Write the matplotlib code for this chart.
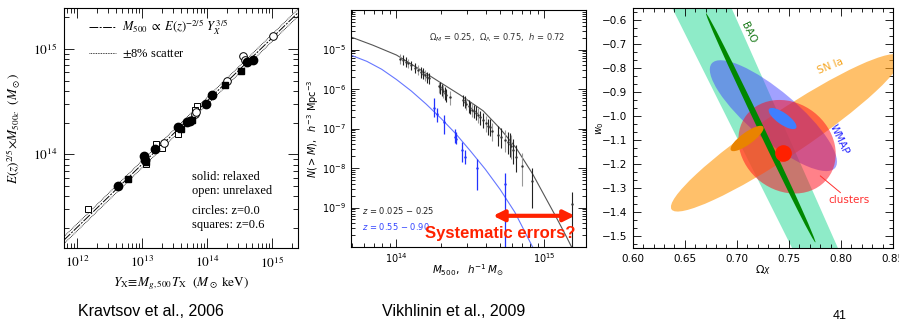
import numpy as np
import matplotlib
matplotlib.use('Agg')
import matplotlib.pyplot as plt
from matplotlib.patches import Ellipse, Polygon
from matplotlib.transforms import IdentityTransform
from matplotlib.ticker import LogLocator, MultipleLocator, NullFormatter

plt.rcParams['mathtext.fontset'] = 'stix'
plt.rcParams['font.family'] = ['DejaVu Sans']

# ---- panel 1: Kravtsov et al. 2006 (log10 values) ----
fc_logY = [12.63, 13.03, 13.05, 13.20, 13.56, 13.69, 13.74, 13.99, 14.07, 14.61, 14.71]
fc_logM = [13.70, 13.98, 13.95, 14.05, 14.26, 14.31, 14.32, 14.48, 14.565, 14.88, 14.90]
fs_logY = [12.78, 13.06, 13.60, 13.77, 14.27, 14.53]
fs_logM = [13.77, 13.93, 14.24, 14.33, 14.66, 14.79]
oc_logY = [13.34, 13.82, 13.83, 14.07, 14.31, 14.56, 14.58, 15.01]
oc_logM = [14.11, 14.38, 14.40, 14.565, 14.70, 14.93, 14.90, 15.12]
os_logY = [12.17, 13.06, 13.21, 13.31, 13.55, 13.84, 13.82]
os_logM = [13.485, 13.91, 14.10, 14.06, 14.19, 14.46, 14.42]
fit_logY = [11.8, 15.4]
fit_logM = [13.185, 15.345]
scatter_frac = 0.08

# ---- panel 2: Vikhlinin et al. 2009 (log10 values) ----
lo_curve_logM = [13.69, 13.84, 14.0, 14.135, 14.29, 14.43, 14.585, 14.70, 14.81, 14.92, 15.0, 15.08, 15.15, 15.21]
lo_curve_logN = [-4.68, -4.89, -5.14, -5.45, -5.82, -6.15, -6.55, -7.0, -7.50, -8.15, -8.7, -9.25, -9.75, -10.2]
hi_curve_logM = [13.69, 13.80, 13.90, 14.00, 14.10, 14.20, 14.30, 14.40, 14.50, 14.60, 14.70, 14.80, 14.92]
hi_curve_logN = [-5.14, -5.30, -5.50, -5.76, -6.05, -6.38, -6.74, -7.13, -7.57, -8.03, -8.54, -9.12, -10.0]

lo_logM = [14.027, 14.045, 14.063, 14.081, 14.101, 14.124, 14.146, 14.169, 14.180, 14.191, 14.207, 14.221,
           14.288, 14.297, 14.306, 14.315, 14.326, 14.338, 14.360,
           14.450, 14.461, 14.473, 14.489, 14.500, 14.511, 14.522, 14.536, 14.552, 14.567, 14.585, 14.608,
           14.619, 14.630, 14.648,
           14.687, 14.709, 14.732, 14.754, 14.766, 14.777, 14.788, 14.811, 14.851, 14.919, 15.189]
lo_logN = [-5.23, -5.27, -5.31, -5.35, -5.40, -5.46, -5.51, -5.57, -5.61, -5.65, -5.69, -5.73,
           -5.93, -5.96, -6.01, -6.05, -6.10, -6.15, -6.21,
           -6.28, -6.32, -6.38, -6.43, -6.47, -6.52, -6.56, -6.60, -6.66, -6.72, -6.79, -6.87,
           -6.94, -6.97, -7.06,
           -7.16, -7.21, -7.29, -7.33, -7.38, -7.44, -7.54, -7.71, -7.95, -8.34, -8.92]
lo_err_dn = [0.13, 0.13, 0.13, 0.13, 0.13, 0.13, 0.13, 0.14, 0.14, 0.14, 0.15, 0.15,
             0.16, 0.16, 0.16, 0.17, 0.17, 0.18, 0.19,
             0.16, 0.16, 0.16, 0.17, 0.17, 0.18, 0.18, 0.19, 0.19, 0.2, 0.2, 0.22,
             0.22, 0.23, 0.25,
             0.28, 0.29, 0.3, 0.32, 0.33, 0.34, 0.36, 0.4, 0.5, 0.68, 1.08]
lo_err_up = [0.12, 0.12, 0.12, 0.12, 0.12, 0.12, 0.12, 0.13, 0.13, 0.13, 0.13, 0.13,
             0.14, 0.14, 0.14, 0.15, 0.15, 0.16, 0.17,
             0.14, 0.14, 0.14, 0.15, 0.15, 0.16, 0.16, 0.16, 0.17, 0.17, 0.18, 0.19,
             0.19, 0.2, 0.21,
             0.22, 0.23, 0.24, 0.25, 0.26, 0.27, 0.28, 0.3, 0.32, 0.34, 0.32]

hi_logM = [14.254, 14.274, 14.322, 14.394, 14.40, 14.446, 14.461, 14.545, 14.736]
hi_logN = [-6.49, -6.64, -6.83, -7.21, -7.27, -7.54, -7.71, -8.0, -8.40]
hi_err_dn = [0.23, 0.2, 0.3, 0.16, 0.12, 0.3, 0.2, 0.55, 1.6]
hi_err_up = [0.25, 0.15, 0.17, 0.21, 0.18, 0.21, 0.17, 0.22, 0.28]

arrow_logM = [14.653, 15.205]
arrow_logN = -9.21

# ---- panel 3: constraints in (Omega_X, w0) ----
bao_band = [(0.638, -0.55), (0.695, -0.55), (0.797, -1.55), (0.753, -1.55)]
# ellipses: centre, end of major axis, minor/major ratio
sn_ell = [(0.7472, -1.0695), (0.6373, -1.389), 0.16]
wmap_ell = [(0.7351, -0.998), (0.6759, -0.780), 0.30]
cl_ell = [(0.7482, -1.1276), (0.7872, -1.2593), 0.85]
bao_ell = [(0.7229, -1.0487), (0.6704, -0.5709), 0.024]
comb_sn_ell = [(0.7098, -1.0931), (0.7253, -1.0441), 0.3]
comb_wmap_ell = [(0.7439, -1.010), (0.7569, -1.0496), 0.35]
cl_best = (0.744, -1.1546)


def add_ellipse(ax, spec, **kw):
    centre, tip, ratio = spec
    c = ax.transData.transform(centre)
    t = ax.transData.transform(tip)
    dx, dy = t - c
    a = np.hypot(dx, dy)
    ang = np.degrees(np.arctan2(dy, dx))
    e = Ellipse(c, 2 * a, 2 * a * ratio, angle=ang, transform=IdentityTransform(), **kw)
    ax.add_patch(e)


fig = plt.figure(figsize=(8.99, 3.26), dpi=100)

# ================= panel 1 =================
ax1 = fig.add_axes([0.0712, 0.2393, 0.2603, 0.7362])
ax1.set_xscale('log')
ax1.set_yscale('log')
ax1.set_xlim(10**11.8, 10**15.4)
ax1.set_ylim(10**13.11, 10**15.39)

fY = 10**np.array(fit_logY)
fM = 10**np.array(fit_logM)
fit_line, = ax1.plot(fY, fM, color='k', lw=0.7, dashes=(9, 1.5, 2, 1.5))
sc_line, = ax1.plot(fY, fM * (1 + scatter_frac), color='k', lw=0.6, ls=(0, (1, 1)))
ax1.plot(fY, fM / (1 + scatter_frac), color='k', lw=0.6, ls=(0, (1, 1)))

ax1.plot(10**np.array(os_logY), 10**np.array(os_logM), 's', ms=4.3, mfc='white', mec='k', mew=0.7, ls='none')
ax1.plot(10**np.array(oc_logY), 10**np.array(oc_logM), 'o', ms=5.5, mfc='white', mec='k', mew=0.7, ls='none')
ax1.plot(10**np.array(fs_logY), 10**np.array(fs_logM), 's', ms=5.0, color='k', ls='none')
ax1.plot(10**np.array(fc_logY), 10**np.array(fc_logM), 'o', ms=6.0, color='k', ls='none')

ax1.set_xticks([1e12, 1e13, 1e14, 1e15], [r'$10^{12}$', r'$10^{13}$', r'$10^{14}$', r'$10^{15}$'])
ax1.set_yticks([1e14, 1e15], [r'$10^{14}$', r'$10^{15}$'])
ax1.xaxis.set_minor_formatter(NullFormatter())
ax1.yaxis.set_minor_formatter(NullFormatter())
ax1.tick_params(which='both', direction='in', top=True, right=True, labelsize=9.5, width=0.6, pad=5)
ax1.tick_params(which='major', length=7)
ax1.tick_params(which='minor', length=3.5)
ax1.set_xlabel(r'$Y_{\rm X}\!\equiv\! M_{g,500}T_{\rm X}\ \ (M_\odot\ {\rm keV})$', fontsize=9.5, labelpad=3)
ax1.set_ylabel(r'$E(z)^{2/5}\!\times\! M_{500c}\ \ (M_\odot)$', fontsize=9.5, labelpad=8)

ax1.legend([fit_line, sc_line],
           [r'$M_{500}\ \propto\ E(z)^{-2/5}\ Y_X^{\,3/5}$', r'$\pm$8% scatter'],
           loc='upper left', bbox_to_anchor=(0.06, 1.005), frameon=False,
           prop={'family': 'Liberation Serif', 'size': 9}, handlelength=2.1,
           handletextpad=0.5, labelspacing=0.8)

for txt, yy in [('solid: relaxed', 0.297), ('open: unrelaxed', 0.239),
                ('circles: z=0.0', 0.155), ('squares: z=0.6', 0.097)]:
    ax1.text(0.546, yy, txt, transform=ax1.transAxes, family='Liberation Serif',
             fontsize=9, va='center')

# ================= panel 2 =================
ax2 = fig.add_axes([0.390, 0.2423, 0.2617, 0.727])
ax2.set_xscale('log')
ax2.set_yscale('log')
ax2.set_xlim(10**13.69, 10**15.28)
ax2.set_ylim(1e-10, 1e-4)

ax2.plot(10**np.array(lo_curve_logM), 10**np.array(lo_curve_logN), color='#555555', lw=0.8)
ax2.plot(10**np.array(hi_curve_logM), 10**np.array(hi_curve_logN), color='#6677ff', lw=0.8)

lm = 10**np.array(lo_logM)
ln = np.array(lo_logN)
bar_cols = ['#222222' if i % 3 else '#999999' for i in range(len(lo_logM))]
ax2.vlines(lm, 10**(ln - np.array(lo_err_dn)), 10**(ln + np.array(lo_err_up)), colors=bar_cols, lw=0.8)
ax2.plot(lm, 10**ln, '.', ms=1.5, color='#333333')
hm = 10**np.array(hi_logM)
hn = np.array(hi_logN)
ax2.vlines(hm, 10**(hn - np.array(hi_err_dn)), 10**(hn + np.array(hi_err_up)), color='#2233ff', lw=0.9)
ax2.plot(hm, 10**hn, '.', ms=1.5, color='#2233ff')

ax2.set_xticks([1e14, 1e15], [r'$10^{14}$', r'$10^{15}$'], math_fontfamily='dejavusans')
ax2.set_yticks([1e-9, 1e-8, 1e-7, 1e-6, 1e-5],
               [r'$10^{-9}$', r'$10^{-8}$', r'$10^{-7}$', r'$10^{-6}$', r'$10^{-5}$'],
               math_fontfamily='dejavusans')
ax2.xaxis.set_minor_locator(LogLocator(base=10, subs=np.arange(2, 10)))
ax2.yaxis.set_minor_locator(LogLocator(base=10, subs=np.arange(2, 10), numticks=20))
ax2.xaxis.set_minor_formatter(NullFormatter())
ax2.yaxis.set_minor_formatter(NullFormatter())
ax2.tick_params(which='both', direction='in', top=True, right=True, labelsize=7, width=0.6, pad=3)
ax2.tick_params(which='major', length=6)
ax2.tick_params(which='minor', length=3)
ax2.set_xlabel(r'$M_{500},\ \ h^{-1}\,M_{\odot}$', fontsize=7.5, math_fontfamily='dejavusans', labelpad=-2)
ax2.set_ylabel(r'$N(>M),\ \ h^{-3}\ \mathrm{Mpc}^{-3}$', fontsize=7, math_fontfamily='dejavusans', labelpad=1)

ax2.text(0.91, 0.883, r'$\Omega_M$ = 0.25,  $\Omega_\Lambda$ = 0.75,  $h$ = 0.72', transform=ax2.transAxes,
         ha='right', va='center', fontsize=6, color='#333333', math_fontfamily='dejavusans')
ax2.text(0.047, 0.156, r'$z$ = 0.025 $-$ 0.25', transform=ax2.transAxes, ha='left', va='center',
         fontsize=6, color='#222222', math_fontfamily='dejavusans')
ax2.text(0.047, 0.086, r'$z$ = 0.55 $-$ 0.90', transform=ax2.transAxes, ha='left', va='center',
         fontsize=6, color='#3344ff', math_fontfamily='dejavusans')

ax2.annotate('', xy=(10**arrow_logM[0], 10**arrow_logN), xytext=(10**arrow_logM[1], 10**arrow_logN),
             arrowprops=dict(arrowstyle='<|-|>', color='#ff2200', lw=3, mutation_scale=16,
                             shrinkA=0, shrinkB=0))
ax2.text(0.6345, 0.055, 'Systematic errors?', transform=ax2.transAxes, ha='center', va='center',
         fontsize=12, fontweight='bold', color='#ff2200', family='Liberation Sans')

# ================= panel 3 =================
ax3 = fig.add_axes([0.7038, 0.2393, 0.2896, 0.7353])
ax3.set_xlim(0.60, 0.85)
ax3.set_ylim(-1.55, -0.55)

ax3.add_patch(Polygon(bao_band, closed=True, facecolor='#8eebc8', edgecolor='none', zorder=1))
add_ellipse(ax3, sn_ell, facecolor='#ff9f1a', alpha=0.65, edgecolor='none', zorder=2)
add_ellipse(ax3, wmap_ell, facecolor='#4545ff', alpha=0.5, edgecolor='none', zorder=3)
add_ellipse(ax3, cl_ell, facecolor='#ff0e1d', alpha=0.52, edgecolor='none', zorder=4)
add_ellipse(ax3, bao_ell, facecolor='#008800', edgecolor='none', zorder=5)
add_ellipse(ax3, comb_sn_ell, facecolor='#e98300', edgecolor='none', zorder=6)
add_ellipse(ax3, comb_wmap_ell, facecolor='#3f7fff', edgecolor='none', zorder=6)
ax3.plot(*cl_best, 'o', ms=12, color='#ff2000', mec='none', zorder=7)

ax3.text(0.7115, -0.654, 'BAO', color='#1a7a1a', fontsize=7.5, rotation=-64, ha='center', va='center', zorder=8)
ax3.text(0.790, -0.79, 'SN Ia', color='#f5a623', fontsize=7.5, rotation=22, ha='center', va='center', zorder=8)
ax3.text(0.798, -1.097, 'WMAP', color='#2a2aff', fontsize=7.5, rotation=-65, ha='center', va='center', zorder=8)
ax3.text(0.8075, -1.35, 'clusters', color='#ff3030', fontsize=7.5, ha='center', va='center', zorder=8)
ax3.plot([0.7802, 0.7994], [-1.2494, -1.3188], color='#ff3030', lw=0.7, zorder=8)

ax3.xaxis.set_major_locator(MultipleLocator(0.05))
ax3.xaxis.set_minor_locator(MultipleLocator(0.01))
ax3.yaxis.set_major_locator(MultipleLocator(0.1))
ax3.yaxis.set_minor_locator(MultipleLocator(0.1 / 3))
ax3.tick_params(which='both', direction='in', top=True, right=True, labelsize=7.5, width=0.6, pad=4)
ax3.tick_params(which='major', length=6)
ax3.tick_params(which='minor', length=3)
ax3.set_xlabel(r'$\Omega_X$', fontsize=8, math_fontfamily='dejavusans', labelpad=0)
ax3.set_ylabel(r'$w_0$', fontsize=7, math_fontfamily='dejavusans', labelpad=-3)

# ================= captions =================
fig.text(0.0868, 0.046, 'Kravtsov et al., 2006', fontsize=11.5, va='center',
         family=['Liberation Sans Narrow', 'Liberation Sans'])
fig.text(0.425, 0.046, 'Vikhlinin et al., 2009', fontsize=11.5, va='center',
         family=['Liberation Sans Narrow', 'Liberation Sans'])
fig.text(0.9266, 0.031, '41', fontsize=9, va='center', family=['Liberation Sans Narrow', 'Liberation Sans'])

fig.savefig('out.png', dpi=100)
